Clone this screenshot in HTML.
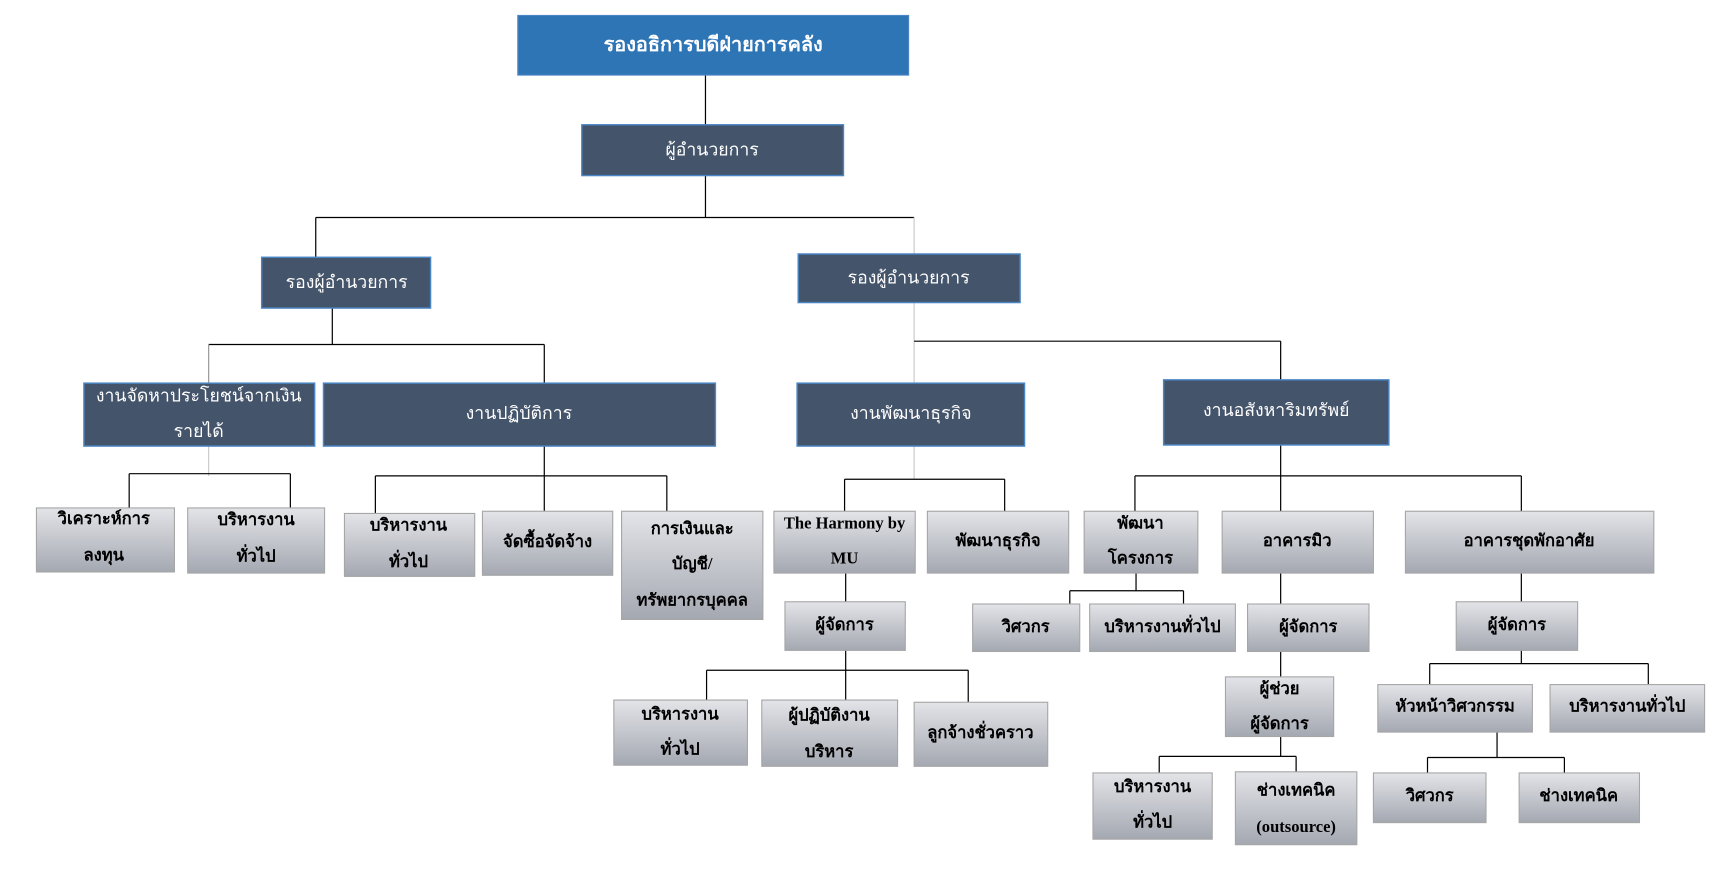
<!DOCTYPE html>
<html><head><meta charset="utf-8"><style>
html,body{margin:0;padding:0;background:#fff;}
svg{display:block;}
text{font-family:"Liberation Serif","DejaVu Sans","Noto Sans CJK SC",serif;text-anchor:middle;dominant-baseline:middle;}
.w{fill:#fff;font-size:16px;}
.b{fill:#000;font-size:15px;font-weight:bold;}
.d{fill:#44546A;stroke:#4a86c5;stroke-width:1.3;}
.g{fill:url(#gr);stroke:#a6a6a6;stroke-width:1;}
line{stroke:#000;stroke-width:1.1;}
</style></head><body>
<svg width="1730" height="869" viewBox="0 0 1567 787" preserveAspectRatio="none" xmlns="http://www.w3.org/2000/svg">
<defs><linearGradient id="gr" x1="0" y1="0" x2="0" y2="1"><stop offset="0" stop-color="#e3e4e8"/><stop offset="1" stop-color="#a4a8b1"/></linearGradient></defs>
<g>
<line x1="639" y1="68" x2="639" y2="113"/>
<line x1="639" y1="159" x2="639" y2="197"/>
<line x1="286" y1="197" x2="828" y2="197"/>
<line x1="286" y1="197" x2="286" y2="233"/>
<line x1="828" y1="197" x2="828" y2="230" style="stroke:#ccc"/>
<line x1="301" y1="279" x2="301" y2="312"/>
<line x1="189" y1="312" x2="493" y2="312"/>
<line x1="189" y1="312" x2="189" y2="347" style="stroke:#999"/>
<line x1="493" y1="312" x2="493" y2="347"/>
<line x1="828" y1="274" x2="828" y2="347" style="stroke:#ccc"/>
<line x1="828" y1="309" x2="1160" y2="309"/>
<line x1="1160" y1="309" x2="1160" y2="344"/>
<line x1="189" y1="404" x2="189" y2="431" style="stroke:#ccc"/>
<line x1="117" y1="429" x2="263" y2="429"/>
<line x1="117" y1="429" x2="117" y2="460"/>
<line x1="263" y1="429" x2="263" y2="460"/>
<line x1="493" y1="404" x2="493" y2="463"/>
<line x1="340" y1="431" x2="604" y2="431"/>
<line x1="340" y1="431" x2="340" y2="465"/>
<line x1="604" y1="431" x2="604" y2="463"/>
<line x1="828" y1="404" x2="828" y2="434" style="stroke:#ccc"/>
<line x1="765" y1="434" x2="910" y2="434"/>
<line x1="765" y1="434" x2="765" y2="463"/>
<line x1="910" y1="434" x2="910" y2="463"/>
<line x1="1160" y1="403" x2="1160" y2="463"/>
<line x1="1028" y1="431" x2="1378" y2="431"/>
<line x1="1028" y1="431" x2="1028" y2="463"/>
<line x1="1378" y1="431" x2="1378" y2="463"/>
<line x1="766" y1="519" x2="766" y2="545"/>
<line x1="766" y1="589" x2="766" y2="634"/>
<line x1="640" y1="607" x2="877" y2="607"/>
<line x1="640" y1="607" x2="640" y2="634"/>
<line x1="877" y1="607" x2="877" y2="636"/>
<line x1="1029" y1="519" x2="1029" y2="535"/>
<line x1="969" y1="535" x2="1072" y2="535"/>
<line x1="969" y1="535" x2="969" y2="547"/>
<line x1="1072" y1="535" x2="1072" y2="547"/>
<line x1="1160" y1="519" x2="1160" y2="547"/>
<line x1="1160" y1="590" x2="1160" y2="613"/>
<line x1="1160" y1="667" x2="1160" y2="685"/>
<line x1="1050" y1="685" x2="1174" y2="685"/>
<line x1="1050" y1="685" x2="1050" y2="700"/>
<line x1="1174" y1="685" x2="1174" y2="699"/>
<line x1="1378" y1="519" x2="1378" y2="545"/>
<line x1="1378" y1="589" x2="1378" y2="601"/>
<line x1="1295" y1="601" x2="1493" y2="601"/>
<line x1="1295" y1="601" x2="1295" y2="620"/>
<line x1="1493" y1="601" x2="1493" y2="620"/>
<line x1="1356" y1="663" x2="1356" y2="686"/>
<line x1="1293" y1="686" x2="1417" y2="686"/>
<line x1="1293" y1="686" x2="1293" y2="700"/>
<line x1="1417" y1="686" x2="1417" y2="700"/>
</g>
<rect x="469" y="14" width="354" height="54" fill="#2E75B6" stroke="#4a86c5"/>
<text class="w" x="646" y="42" style="font-weight:bold;font-size:18px">รองอธิการบดีฝ่ายการคลัง</text>
<rect class="d" x="527" y="113" width="237" height="46"/><text class="w" x="645" y="137">ผู้อำนวยการ</text>
<rect class="d" x="237" y="233" width="153" height="46"/><text class="w" x="314" y="257">รองผู้อำนวยการ</text>
<rect class="d" x="723" y="230" width="201" height="44"/><text class="w" x="823" y="253">รองผู้อำนวยการ</text>
<rect class="d" x="76" y="347" width="209" height="57"/><text class="w" x="180" y="360">งานจัดหาประโยชน์จากเงิน</text><text class="w" x="180" y="392">รายได้</text>
<rect class="d" x="293" y="347" width="355" height="57"/><text class="w" x="470" y="376">งานปฏิบัติการ</text>
<rect class="d" x="722" y="347" width="206" height="57"/><text class="w" x="825" y="376">งานพัฒนาธุรกิจ</text>
<rect class="d" x="1054" y="344" width="204" height="59"/><text class="w" x="1156" y="373">งานอสังหาริมทรัพย์</text>

<rect class="g" x="33" y="460" width="125" height="58"/><text class="b" x="94" y="471">วิเคราะห์การ</text><text class="b" x="94" y="504">ลงทุน</text>
<rect class="g" x="170" y="460" width="124" height="59"/><text class="b" x="232" y="472">บริหารงาน</text><text class="b" x="232" y="505">ทั่วไป</text>
<rect class="g" x="312" y="465" width="118" height="57"/><text class="b" x="370" y="477">บริหารงาน</text><text class="b" x="370" y="510">ทั่วไป</text>
<rect class="g" x="437" y="463" width="118" height="58"/><text class="b" x="496" y="492">จัดซื้อจัดจ้าง</text>
<rect class="g" x="563" y="463" width="128" height="98"/><text class="b" x="627" y="480">การเงินและ</text><text class="b" x="627" y="512">บัญชี/</text><text class="b" x="627" y="545">ทรัพยากรบุคคล</text>
<rect class="g" x="701" y="463" width="128" height="56"/><text class="b" x="765" y="475">The Harmony by</text><text class="b" x="765" y="507">MU</text>
<rect class="g" x="840" y="463" width="128" height="56"/><text class="b" x="904" y="491">พัฒนาธุรกิจ</text>
<rect class="g" x="982" y="463" width="103" height="56"/><text class="b" x="1033" y="475">พัฒนา</text><text class="b" x="1033" y="507">โครงการ</text>
<rect class="g" x="1107" y="463" width="137" height="56"/><text class="b" x="1175" y="491">อาคารมิว</text>
<rect class="g" x="1273" y="463" width="225" height="56"/><text class="b" x="1385" y="491">อาคารชุดพักอาศัย</text>
<rect class="g" x="711" y="545" width="109" height="44"/><text class="b" x="765" y="567">ผู้จัดการ</text>
<rect class="g" x="881" y="547" width="97" height="43"/><text class="b" x="929" y="569">วิศวกร</text>
<rect class="g" x="987" y="547" width="132" height="43"/><text class="b" x="1053" y="569">บริหารงานทั่วไป</text>
<rect class="g" x="1130" y="547" width="110" height="43"/><text class="b" x="1185" y="569">ผู้จัดการ</text>
<rect class="g" x="1319" y="545" width="110" height="44"/><text class="b" x="1374" y="567">ผู้จัดการ</text>
<rect class="g" x="1110" y="613" width="98" height="54"/><text class="b" x="1159" y="625">ผู้ช่วย</text><text class="b" x="1159" y="657">ผู้จัดการ</text>
<rect class="g" x="556" y="634" width="121" height="59"/><text class="b" x="616" y="648">บริหารงาน</text><text class="b" x="616" y="680">ทั่วไป</text>
<rect class="g" x="690" y="634" width="123" height="60"/><text class="b" x="751" y="649">ผู้ปฏิบัติงาน</text><text class="b" x="751" y="682">บริหาร</text>
<rect class="g" x="828" y="636" width="121" height="58"/><text class="b" x="888" y="665">ลูกจ้างชั่วคราว</text>
<rect class="g" x="1248" y="620" width="140" height="43"/><text class="b" x="1318" y="641">หัวหน้าวิศวกรรม</text>
<rect class="g" x="1404" y="620" width="140" height="43"/><text class="b" x="1474" y="641">บริหารงานทั่วไป</text>
<rect class="g" x="990" y="700" width="108" height="60"/><text class="b" x="1044" y="714">บริหารงาน</text><text class="b" x="1044" y="746">ทั่วไป</text>
<rect class="g" x="1119" y="699" width="110" height="66"/><text class="b" x="1174" y="717">ช่างเทคนิค</text><text class="b" x="1174" y="750">(outsource)</text>
<rect class="g" x="1244" y="700" width="102" height="45"/><text class="b" x="1295" y="722">วิศวกร</text>
<rect class="g" x="1376" y="700" width="109" height="45"/><text class="b" x="1430" y="722">ช่างเทคนิค</text>
</svg>
</body></html>
